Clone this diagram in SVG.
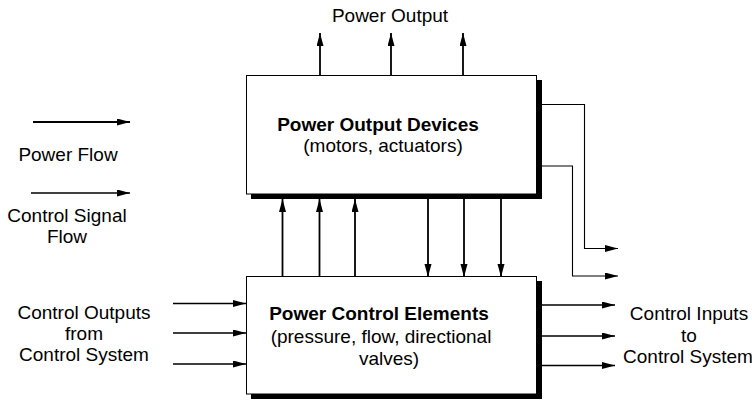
<svg xmlns="http://www.w3.org/2000/svg" width="752" height="401" viewBox="0 0 752 401">
<defs>
<marker id="ah" markerUnits="userSpaceOnUse" markerWidth="14" markerHeight="8" refX="13" refY="3.5" orient="auto">
<path d="M0,0 L13,3.5 L0,7 z" fill="#000"/>
</marker>
<style>
text{font-family:"Liberation Sans",Arial,Helvetica,sans-serif;font-size:19px;fill:#000}
.b{font-weight:bold}
.m{text-anchor:middle}
.pw{stroke:#000;stroke-width:1.8;fill:none;marker-end:url(#ah)}
.cs{stroke:#000;stroke-width:1.5;fill:none;marker-end:url(#ah)}
.fb{stroke:#000;stroke-width:1.1;fill:none;marker-end:url(#ah)}
.shadow{fill:#000}
.box{fill:#fff;stroke:#000;stroke-width:1}
</style>
</defs>
<rect width="752" height="401" fill="#fff"/>
<g id="legend">
<line class="pw" x1="33" y1="122" x2="130" y2="122"/>
<text x="68" y="161" class="m">Power Flow</text>
<line class="cs" x1="31" y1="193" x2="130" y2="193"/>
<text x="67" y="222" class="m">Control Signal</text>
<text x="67" y="243" class="m">Flow</text>
</g>
<g id="power-output-devices">
<rect class="shadow" x="251" y="80" width="291" height="119"/>
<rect class="box" x="246.5" y="75.5" width="290" height="118.5"/>
<text x="378" y="131" class="m b">Power Output Devices</text>
<text x="383" y="152" class="m">(motors, actuators)</text>
</g>
<g id="power-control-elements">
<rect class="shadow" x="251" y="281" width="291" height="118"/>
<rect class="box" x="246.5" y="276.5" width="290" height="117.5"/>
<text x="379" y="320" class="m b">Power Control Elements</text>
<text x="381" y="343" class="m">(pressure, flow, directional</text>
<text x="389" y="365" class="m">valves)</text>
</g>
<g id="labels">
<text x="390" y="22" class="m">Power Output</text>
<text x="84" y="319" class="m">Control Outputs</text>
<text x="84" y="340" class="m">from</text>
<text x="84" y="361" class="m">Control System</text>
<text x="689" y="320" class="m">Control Inputs</text>
<text x="689" y="342" class="m">to</text>
<text x="688" y="363" class="m">Control System</text>
</g>
<g id="connectors">
<line class="pw" x1="320" y1="75" x2="320" y2="33"/>
<line class="pw" x1="391" y1="75" x2="391" y2="33"/>
<line class="pw" x1="463" y1="75" x2="463" y2="33"/>
<line class="pw" x1="282.5" y1="277" x2="282.5" y2="199"/>
<line class="pw" x1="319.5" y1="277" x2="319.5" y2="199"/>
<line class="pw" x1="355" y1="277" x2="355" y2="199"/>
<line class="pw" x1="428" y1="199" x2="428" y2="277"/>
<line class="pw" x1="464" y1="199" x2="464" y2="277"/>
<line class="pw" x1="501" y1="199" x2="501" y2="277"/>
<polyline class="fb" points="541,104.5 584.5,104.5 584.5,248.5 618,248.5"/>
<polyline class="fb" points="541,166 572.5,166 572.5,276 618,276"/>
<line class="cs" x1="173" y1="303.5" x2="246" y2="303.5"/>
<line class="cs" x1="173" y1="333" x2="246" y2="333"/>
<line class="cs" x1="173" y1="364" x2="246" y2="364"/>
<line class="cs" x1="542" y1="305" x2="615" y2="305"/>
<line class="cs" x1="542" y1="336" x2="615" y2="336"/>
<line class="cs" x1="542" y1="365.5" x2="615" y2="365.5"/>
</g>
</svg>
